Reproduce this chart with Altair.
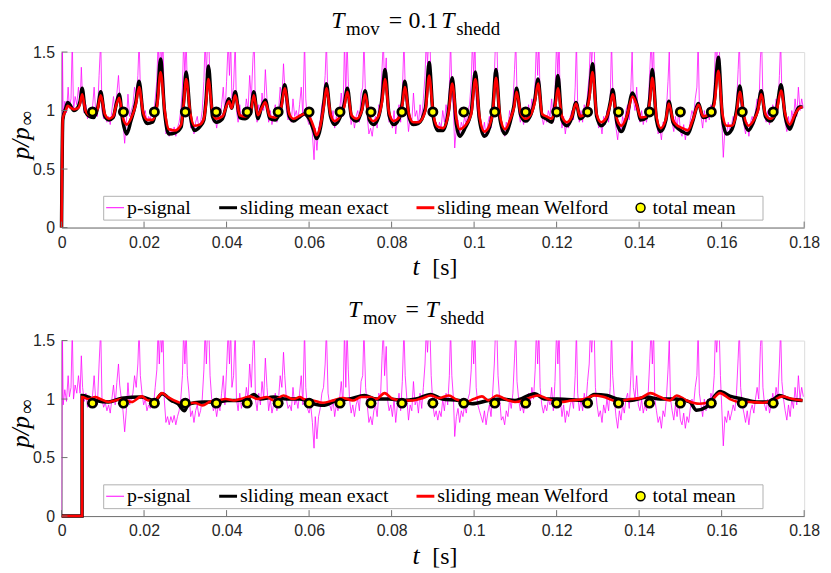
import altair as alt
import pandas as pd

# ---------------- data ----------------
SERIES = ["p-signal", "sliding mean exact", "sliding mean Welford", "total mean"]
x_ticks = [0, 0.02, 0.04, 0.06, 0.08, 0.1, 0.12, 0.14, 0.16, 0.18]
y_ticks = [0, 0.5, 1, 1.5]

# raw pressure signal (same in both panels)
psig_t = [
    0, 0.0002, 0.0004, 0.0008, 0.0012, 0.0016, 0.0019, 0.0023, 0.0026, 0.0029,
    0.0033, 0.0037, 0.0041, 0.0045, 0.0048, 0.0051, 0.0055, 0.0059, 0.0063, 0.0067,
    0.0071, 0.0075, 0.0079, 0.0083, 0.0087, 0.0091, 0.0095, 0.0098, 0.0102, 0.0106,
    0.011, 0.0114, 0.0118, 0.0122, 0.0126, 0.013, 0.0134, 0.0138, 0.0141, 0.0145,
    0.0149, 0.0153, 0.0157, 0.0161, 0.0165, 0.0169, 0.0173, 0.0177, 0.0181, 0.0185,
    0.0188, 0.0191, 0.0195, 0.0199, 0.0203, 0.0207, 0.0211, 0.0215, 0.0219, 0.0223,
    0.0227, 0.0231, 0.0234, 0.0237, 0.024, 0.0243, 0.0246, 0.0249, 0.0253, 0.0257,
    0.0261, 0.0265, 0.0269, 0.0273, 0.0277, 0.0281, 0.0285, 0.0289, 0.0293, 0.0296,
    0.0299, 0.0302, 0.0305, 0.0309, 0.0313, 0.0317, 0.0321, 0.0325, 0.0329, 0.0333,
    0.0337, 0.0341, 0.0345, 0.0348, 0.0351, 0.0354, 0.0357, 0.036, 0.0364, 0.0368,
    0.0372, 0.0376, 0.038, 0.0384, 0.0388, 0.0392, 0.0396, 0.04, 0.0404, 0.0407,
    0.041, 0.0413, 0.0417, 0.0421, 0.0424, 0.0428, 0.0432, 0.0436, 0.044, 0.0444,
    0.0448, 0.0452, 0.0456, 0.046, 0.0464, 0.0467, 0.047, 0.0474, 0.0478, 0.0482,
    0.0486, 0.049, 0.0494, 0.0498, 0.0502, 0.0506, 0.051, 0.0514, 0.0518, 0.0522,
    0.0526, 0.053, 0.0534, 0.0538, 0.0541, 0.0545, 0.0549, 0.0553, 0.0557, 0.0561,
    0.0565, 0.0569, 0.0573, 0.0577, 0.0581, 0.0585, 0.0589, 0.0592, 0.0596, 0.06,
    0.0604, 0.0608, 0.0612, 0.0615, 0.0619, 0.0623, 0.0627, 0.0631, 0.0635, 0.0639,
    0.0642, 0.0646, 0.065, 0.0654, 0.0658, 0.0662, 0.0666, 0.067, 0.0674, 0.0678,
    0.0682, 0.0686, 0.0689, 0.0692, 0.0695, 0.0698, 0.0702, 0.0706, 0.071, 0.0714,
    0.0718, 0.0722, 0.0726, 0.073, 0.0733, 0.0737, 0.0741, 0.0745, 0.0749, 0.0753,
    0.0757, 0.0761, 0.0765, 0.0769, 0.0773, 0.0777, 0.078, 0.0783, 0.0787, 0.079,
    0.0794, 0.0798, 0.0802, 0.0806, 0.081, 0.0814, 0.0818, 0.0822, 0.0826, 0.083,
    0.0833, 0.0837, 0.0841, 0.0845, 0.0849, 0.0853, 0.0857, 0.0861, 0.0865, 0.0869,
    0.0873, 0.0877, 0.0881, 0.0884, 0.0887, 0.089, 0.0893, 0.0896, 0.09, 0.0904,
    0.0908, 0.0912, 0.0916, 0.092, 0.0924, 0.0928, 0.0932, 0.0936, 0.094, 0.0943,
    0.0946, 0.095, 0.0953, 0.0957, 0.0961, 0.0965, 0.0969, 0.0973, 0.0977, 0.0981,
    0.0985, 0.0989, 0.0993, 0.0996, 0.0999, 0.1002, 0.1005, 0.1009, 0.1013, 0.1017,
    0.1021, 0.1025, 0.1029, 0.1033, 0.1037, 0.1041, 0.1045, 0.1049, 0.1052, 0.1055,
    0.1058, 0.1062, 0.1066, 0.107, 0.1074, 0.1078, 0.1082, 0.1086, 0.109, 0.1094,
    0.1098, 0.1101, 0.1104, 0.1108, 0.1112, 0.1116, 0.112, 0.1124, 0.1128, 0.1132,
    0.1136, 0.114, 0.1144, 0.1148, 0.1151, 0.1154, 0.1157, 0.116, 0.1164, 0.1168,
    0.1172, 0.1176, 0.118, 0.1184, 0.1188, 0.1192, 0.1196, 0.12, 0.1203, 0.1206,
    0.1209, 0.1213, 0.1217, 0.1221, 0.1225, 0.1229, 0.1233, 0.1237, 0.1241, 0.1245,
    0.1248, 0.1251, 0.1255, 0.1259, 0.1263, 0.1267, 0.1271, 0.1275, 0.1279, 0.1282,
    0.1285, 0.1288, 0.1291, 0.1294, 0.1298, 0.1302, 0.1306, 0.131, 0.1314, 0.1318,
    0.1322, 0.1326, 0.133, 0.1333, 0.1336, 0.134, 0.1344, 0.1348, 0.1352, 0.1356,
    0.136, 0.1364, 0.1368, 0.1372, 0.1376, 0.138, 0.1383, 0.1386, 0.139, 0.1394,
    0.1398, 0.1402, 0.1406, 0.141, 0.1414, 0.1418, 0.1422, 0.1426, 0.1429, 0.1432,
    0.1435, 0.1438, 0.1442, 0.1446, 0.145, 0.1454, 0.1458, 0.1462, 0.1466, 0.147,
    0.1473, 0.1476, 0.148, 0.1484, 0.1488, 0.1492, 0.1496, 0.15, 0.1504, 0.1508,
    0.1512, 0.1516, 0.152, 0.1524, 0.1528, 0.1532, 0.1536, 0.154, 0.1543, 0.1546,
    0.155, 0.1554, 0.1558, 0.1562, 0.1566, 0.157, 0.1574, 0.1578, 0.1582, 0.1585,
    0.1588, 0.1591, 0.1594, 0.1597, 0.16, 0.1604, 0.1608, 0.1612, 0.1616, 0.162,
    0.1624, 0.1628, 0.1632, 0.1636, 0.164, 0.1643, 0.1646, 0.165, 0.1654, 0.1658,
    0.1662, 0.1666, 0.167, 0.1674, 0.1678, 0.1682, 0.1686, 0.169, 0.1694, 0.1697,
    0.17, 0.1704, 0.1708, 0.1712, 0.1716, 0.172, 0.1724, 0.1728, 0.1732, 0.1736,
    0.174, 0.1743, 0.1746, 0.175, 0.1754, 0.1758, 0.1762, 0.1766, 0.177, 0.1774,
    0.1778, 0.1782, 0.1786, 0.179, 0.1794, 0.1798,
]
psig_v = [
    0.0, 1.6, 0.95, 1.08, 0.98, 1.2, 1.02, 1.1, 1.6, 1.0,
    1.12, 1.05, 1.2, 1.05, 1.37, 1.1, 0.98, 1.05, 0.93, 1.0,
    0.95, 1.02, 1.2, 0.98, 0.95, 1.3, 1.6, 1.0, 0.93, 0.97,
    0.9, 0.95, 0.88, 1.0, 1.12, 0.95, 1.14, 1.3, 1.12, 1.0,
    0.9, 0.72, 0.9, 1.14, 0.95, 1.0, 1.05, 1.2, 1.1, 1.3,
    1.6, 1.2, 1.05, 0.95, 1.0, 0.9, 0.95, 0.92, 1.0, 0.95,
    1.1, 1.25, 1.6, 1.3, 1.6, 1.4, 1.6, 1.0, 0.8, 0.85,
    0.78, 0.85, 0.8, 0.86, 0.78, 0.85, 0.9, 1.0, 1.2, 1.6,
    1.3, 1.6, 1.2, 1.05, 0.85, 0.9, 0.8, 0.9, 0.95, 0.85,
    0.9, 1.0, 1.25, 1.6, 1.3, 1.6, 1.6, 1.2, 1.0, 0.9,
    0.95, 0.85, 0.95, 0.9, 1.05, 1.2, 0.95, 1.25, 1.6, 1.3,
    1.6, 1.1, 1.2, 1.6, 1.0, 0.9, 1.05, 0.92, 1.0, 0.95,
    1.1, 1.0, 1.3, 1.1, 1.45, 1.6, 1.0, 0.9, 1.05, 0.95,
    1.15, 1.0, 1.35, 1.1, 0.9, 1.0, 0.88, 0.95, 1.05, 0.9,
    1.0, 1.2, 1.1, 1.4, 1.2, 1.0, 0.92, 0.95, 0.9, 1.1,
    0.95, 1.0, 0.92, 1.05, 1.2, 0.95, 1.6, 1.1, 0.92, 0.88,
    0.95, 0.8, 0.58, 0.85, 0.66, 0.85, 0.92, 1.05, 1.1, 1.3,
    1.6, 1.05, 0.95, 0.9, 1.0, 0.85, 0.95, 0.9, 1.0, 1.15,
    0.95, 1.6, 1.1, 1.6, 1.25, 1.0, 0.88, 0.95, 0.85, 0.95,
    1.0, 0.9, 1.15, 1.2, 1.6, 1.1, 0.95, 0.8, 0.85, 0.78,
    0.9, 0.95, 0.85, 1.05, 1.0, 1.37, 1.6, 1.2, 1.45, 1.0,
    0.9, 0.95, 0.85, 1.0, 0.8, 0.95, 1.05, 0.9, 1.15, 1.6,
    1.2, 1.0, 0.82, 0.95, 0.9, 1.15, 0.95, 1.0, 0.88, 1.05,
    0.92, 1.1, 1.3, 1.6, 1.4, 1.6, 1.6, 1.2, 0.95, 0.85,
    0.9, 0.82, 0.9, 0.85, 1.0, 0.9, 1.05, 0.95, 1.2, 1.6,
    1.2, 1.0, 0.68, 0.85, 0.92, 0.8, 0.9, 0.85, 0.95, 0.88,
    1.0, 1.05, 1.25, 1.6, 1.3, 1.6, 1.1, 0.95, 0.9, 0.85,
    0.8, 0.9, 0.78, 0.88, 0.95, 0.85, 1.05, 1.3, 1.6, 1.6,
    1.2, 1.0, 0.82, 0.85, 0.78, 0.9, 0.85, 1.0, 0.92, 1.05,
    1.35, 1.6, 1.15, 1.0, 0.9, 0.95, 0.88, 1.0, 0.92, 1.05,
    0.95, 1.1, 1.0, 1.25, 1.6, 1.3, 1.6, 1.1, 0.95, 0.88,
    0.95, 0.9, 1.0, 0.95, 1.1, 0.9, 1.15, 1.6, 1.3, 1.6,
    1.0, 0.85, 0.95, 0.8, 0.9, 0.85, 0.95, 1.0, 0.92, 1.2,
    1.6, 1.05, 0.9, 1.0, 0.9, 1.05, 0.95, 1.15, 1.3, 1.6,
    1.4, 1.6, 1.6, 1.1, 0.95, 0.85, 0.9, 0.8, 0.95, 0.88,
    1.0, 0.9, 1.1, 1.6, 1.2, 1.0, 0.85, 0.75, 0.9, 0.82,
    0.95, 0.88, 1.0, 1.05, 0.92, 1.2, 1.5, 1.1, 1.0, 1.2,
    0.95, 0.9, 1.0, 0.88, 0.95, 0.9, 1.05, 1.35, 1.6, 1.3,
    1.6, 1.0, 0.9, 0.8, 0.85, 0.75, 0.9, 0.85, 1.0, 1.25,
    1.5, 1.0, 0.9, 0.82, 0.95, 0.85, 1.0, 0.82, 0.78, 0.88,
    0.75, 0.85, 0.8, 0.92, 1.0, 0.95, 1.1, 1.2, 1.6, 1.05,
    0.95, 0.85, 1.0, 0.9, 1.0, 0.92, 1.05, 1.0, 1.2, 1.6,
    1.4, 1.6, 1.6, 1.2, 0.95, 0.6, 0.85, 0.8, 0.9, 0.82,
    0.88, 0.95, 0.9, 1.05, 1.35, 1.6, 1.1, 0.95, 0.88, 0.8,
    0.9, 0.78, 0.9, 0.95, 0.88, 1.0, 1.1, 1.0, 1.45, 1.6,
    1.1, 0.95, 0.9, 1.0, 0.88, 0.95, 1.05, 0.95, 1.1, 1.0,
    1.3, 1.6, 1.15, 1.0, 0.9, 0.82, 0.95, 0.85, 1.0, 0.92,
    1.1, 0.95, 1.2, 1.0, 1.1, 1.02,
]

# top panel (T_mov = 0.1 T_shedd): sliding means
top_t = [
    0.0, 0.0003, 0.001, 0.0015, 0.002, 0.003, 0.004, 0.0045, 0.005, 0.0058,
    0.0068, 0.0078, 0.0088, 0.0095, 0.0105, 0.0115, 0.0125, 0.0133, 0.014, 0.0148,
    0.0158, 0.0168, 0.018, 0.0188, 0.0198, 0.0208, 0.022, 0.0232, 0.024, 0.025,
    0.026, 0.0275, 0.029, 0.0296, 0.0302, 0.0312, 0.0322, 0.0335, 0.0345, 0.035,
    0.0356, 0.0366, 0.0375, 0.039, 0.0406, 0.0412, 0.0421, 0.0432, 0.0445, 0.0458,
    0.0466, 0.0476, 0.0485, 0.0494, 0.0505, 0.0518, 0.0532, 0.0541, 0.0552, 0.0562,
    0.0575, 0.0588, 0.06, 0.0612, 0.0618, 0.0628, 0.0635, 0.0642, 0.0652, 0.0662,
    0.0675, 0.0685, 0.0693, 0.0703, 0.0715, 0.0728, 0.0736, 0.0746, 0.0756, 0.0768,
    0.0777, 0.0784, 0.0794, 0.0805, 0.0818, 0.0826, 0.0832, 0.0842, 0.0852, 0.0865,
    0.0882, 0.0891, 0.0901, 0.0912, 0.0925, 0.0938, 0.0947, 0.0957, 0.0965, 0.0978,
    0.0993, 0.1003, 0.1013, 0.1025, 0.1037, 0.1045, 0.1053, 0.1063, 0.1075, 0.1088,
    0.1097, 0.1103, 0.1113, 0.1125, 0.1138, 0.1147, 0.1155, 0.1165, 0.1175, 0.1188,
    0.1197, 0.1203, 0.1213, 0.1225, 0.1237, 0.1247, 0.1257, 0.127, 0.1279, 0.1287,
    0.1297, 0.1308, 0.1322, 0.133, 0.1336, 0.1346, 0.1357, 0.137, 0.1384, 0.1394,
    0.1404, 0.1418, 0.1426, 0.1432, 0.1442, 0.1452, 0.1465, 0.1472, 0.1482, 0.149,
    0.1505, 0.1518, 0.153, 0.1544, 0.1555, 0.157, 0.1582, 0.1592, 0.1602, 0.1612,
    0.1625, 0.1636, 0.1644, 0.1654, 0.1665, 0.1678, 0.1688, 0.1696, 0.1706, 0.1718,
    0.1732, 0.1744, 0.1754, 0.1765, 0.1778, 0.1788, 0.1796,
]
top_welford = [
    0.0, 0.93, 1.0, 1.04, 1.03, 1.01, 1.02, 1.06, 1.14, 1.0,
    0.96, 0.96, 1.02, 1.13, 0.97, 0.93, 0.95, 1.05, 1.11, 0.95,
    0.88, 0.93, 1.05, 1.2, 0.98, 0.92, 0.92, 1.05, 1.33, 1.0,
    0.84, 0.83, 0.88, 1.05, 1.27, 0.98, 0.87, 0.88, 0.93, 1.05,
    1.27, 0.98, 0.93, 0.95, 1.08, 1.02, 1.13, 0.96, 0.95, 0.98,
    1.13, 0.96, 1.02, 1.07, 0.95, 0.94, 1.02, 1.19, 0.97, 0.93,
    0.95, 0.97, 0.95, 0.85, 0.79, 0.88, 1.02, 1.19, 0.97, 0.91,
    0.95, 1.03, 1.16, 0.96, 0.93, 1.0, 1.14, 0.95, 0.91, 0.95,
    1.08, 1.27, 0.98, 0.91, 0.94, 1.05, 1.2, 0.97, 0.9, 0.9,
    1.0, 1.3, 0.97, 0.86, 0.85, 0.98, 1.23, 0.93, 0.84, 0.87,
    0.97, 1.27, 0.95, 0.82, 0.87, 0.98, 1.28, 0.95, 0.84, 0.93,
    1.03, 1.16, 0.98, 0.93, 0.97, 1.07, 1.23, 0.97, 0.95, 0.93,
    1.05, 1.19, 0.95, 0.9, 0.95, 1.06, 0.95, 0.98, 1.1, 1.33,
    0.97, 0.9, 0.95, 1.05, 1.14, 0.93, 0.87, 0.95, 1.12, 1.05,
    0.94, 0.95, 1.08, 1.28, 0.95, 0.85, 0.93, 1.06, 0.92, 0.88,
    0.85, 0.83, 0.92, 1.05, 0.95, 0.97, 1.05, 1.34, 0.97, 0.87,
    0.87, 0.98, 1.16, 0.96, 0.87, 0.92, 1.0, 1.14, 0.97, 0.93,
    0.98, 1.17, 0.97, 0.88, 0.97, 1.02, 1.03,
]
top_exact = [
    0.0, 0.92, 1.02, 1.07, 1.05, 1.0, 1.03, 1.08, 1.19, 0.99,
    0.95, 0.94, 1.03, 1.16, 0.95, 0.92, 0.94, 1.06, 1.14, 0.92,
    0.8, 0.91, 1.07, 1.25, 0.96, 0.89, 0.9, 1.08, 1.44, 0.98,
    0.8, 0.81, 0.86, 1.08, 1.33, 0.96, 0.83, 0.86, 0.92, 1.08,
    1.38, 0.95, 0.9, 0.93, 1.1, 1.02, 1.16, 0.94, 0.93, 0.98,
    1.16, 0.93, 1.03, 1.09, 0.93, 0.92, 1.03, 1.22, 0.95, 0.91,
    0.94, 0.97, 0.93, 0.82, 0.76, 0.86, 1.04, 1.23, 0.95, 0.88,
    0.94, 1.05, 1.19, 0.94, 0.91, 1.01, 1.17, 0.92, 0.88, 0.94,
    1.11, 1.35, 0.96, 0.88, 0.93, 1.07, 1.25, 0.95, 0.88, 0.89,
    1.02, 1.41, 0.95, 0.83, 0.83, 1.0, 1.28, 0.88, 0.78, 0.85,
    0.99, 1.33, 0.92, 0.78, 0.85, 1.0, 1.35, 0.92, 0.8, 0.91,
    1.05, 1.19, 0.96, 0.91, 0.97, 1.09, 1.27, 0.95, 0.93, 0.9,
    1.08, 1.3, 0.92, 0.87, 0.94, 1.07, 0.93, 0.98, 1.13, 1.4,
    0.95, 0.87, 0.94, 1.07, 1.18, 0.9, 0.82, 0.94, 1.15, 1.06,
    0.92, 0.94, 1.11, 1.35, 0.92, 0.82, 0.92, 1.08, 0.9, 0.86,
    0.82, 0.8, 0.91, 1.06, 0.94, 0.96, 1.08, 1.455, 0.93, 0.8,
    0.84, 1.0, 1.21, 0.93, 0.83, 0.91, 1.02, 1.17, 0.95, 0.91,
    0.99, 1.22, 0.95, 0.84, 0.96, 1.03, 1.03,
]

# bottom panel (T_mov = T_shedd): sliding means
bot_welford_t = [
    0.0, 0.00497, 0.00498, 0.00657, 0.00817, 0.0094, 0.01137, 0.013, 0.01458, 0.01698,
    0.01939, 0.021, 0.0226, 0.02435, 0.0258, 0.0282, 0.0298, 0.0322, 0.0342, 0.0358,
    0.0378, 0.0398, 0.0418, 0.0434, 0.0458, 0.0474, 0.0498, 0.0514, 0.0538, 0.0562,
    0.0578, 0.0586, 0.061, 0.0634, 0.0658, 0.0682, 0.0706, 0.0726, 0.0747, 0.0763,
    0.0783, 0.0803, 0.0827, 0.0851, 0.0875, 0.0895, 0.0915, 0.0939, 0.0955, 0.0979,
    0.0999, 0.1019, 0.1035, 0.1055, 0.1075, 0.1099, 0.1119, 0.1139, 0.1155, 0.1179,
    0.1211, 0.1235, 0.1267, 0.1291, 0.1315, 0.1347, 0.1379, 0.1403, 0.1427, 0.1451,
    0.1475, 0.1491, 0.1515, 0.1547, 0.1571, 0.1596, 0.162, 0.1644, 0.1668, 0.17,
    0.1724, 0.1748, 0.1772, 0.1796,
]
bot_welford = [
    0.0, 0.0, 1.017, 1.0, 1.017, 1.0, 0.975, 0.988, 1.0, 0.975,
    1.023, 0.988, 0.988, 1.051, 1.017, 0.975, 0.96, 0.969, 0.946, 0.975,
    0.988, 1.0, 0.988, 1.0, 1.023, 1.0, 1.017, 0.988, 1.031, 1.0,
    1.017, 1.0, 0.988, 0.969, 0.988, 1.008, 0.988, 1.017, 1.017, 1.0,
    1.051, 1.0, 0.988, 0.988, 1.008, 1.031, 1.008, 1.031, 1.0, 0.975,
    1.0, 1.023, 0.988, 1.031, 1.0, 0.975, 0.988, 1.017, 1.031, 1.0,
    0.975, 0.988, 1.0, 1.031, 1.017, 0.98, 1.0, 1.008, 1.051, 1.017,
    0.988, 1.031, 0.988, 0.96, 0.975, 1.051, 1.0, 0.975, 0.975, 0.969,
    0.988, 1.023, 1.0, 0.988,
]
bot_exact_t = [
    0.0, 0.00497, 0.00498, 0.00657, 0.0084, 0.01137, 0.01458, 0.01939, 0.0226, 0.02435,
    0.0266, 0.0282, 0.0298, 0.0306, 0.0322, 0.0346, 0.0378, 0.0402, 0.0426, 0.045,
    0.0466, 0.0482, 0.0514, 0.0546, 0.0578, 0.061, 0.0634, 0.0666, 0.0698, 0.0734,
    0.0763, 0.0795, 0.0827, 0.0859, 0.0895, 0.0923, 0.0963, 0.0995, 0.1035, 0.1067,
    0.1099, 0.1147, 0.1171, 0.1203, 0.1267, 0.1291, 0.1323, 0.1347, 0.1379, 0.1419,
    0.1451, 0.1491, 0.1523, 0.1539, 0.1563, 0.1596, 0.162, 0.1652, 0.1684, 0.1716,
    0.174, 0.1764, 0.1796,
]
bot_exact = [
    0.0, 0.0, 1.031, 1.017, 0.988, 0.975, 1.008, 1.017, 0.988, 1.045,
    0.988, 0.96, 0.9, 0.95, 0.969, 0.975, 0.975, 0.988, 0.988, 1.0,
    1.04, 1.0, 1.017, 1.0, 1.0, 0.96, 0.946, 0.988, 1.0, 1.031,
    1.0, 1.0, 0.988, 1.0, 1.04, 1.0, 0.988, 0.96, 0.988, 1.0,
    0.988, 1.045, 1.0, 1.0, 0.988, 1.04, 1.031, 1.0, 0.988, 1.017,
    1.0, 1.0, 0.975, 0.904, 0.932, 1.065, 1.025, 1.0, 0.975, 0.975,
    1.031, 1.0, 0.988,
]

# total mean markers
mean_t = [0.0075, 0.015, 0.0225, 0.03, 0.0375, 0.045, 0.0525, 0.06, 0.0675, 0.075,
          0.0825, 0.09, 0.0975, 0.105, 0.1125, 0.12, 0.1275, 0.135, 0.1425, 0.15,
          0.1575, 0.165, 0.1725]
top_mean = [0.988, 0.988, 0.988, 0.988, 0.988, 0.988, 0.988, 0.988, 0.988, 0.988,
            0.988, 0.988, 0.988, 0.988, 0.988, 0.988, 0.988, 0.988, 0.988, 0.988,
            0.988, 0.988, 0.988]
bot_mean = [0.965, 0.965, 0.965, 0.965, 0.965, 0.965, 0.965, 0.965, 0.965, 0.965,
            0.965, 0.965, 0.965, 0.965, 0.965, 0.965, 0.965, 0.965, 0.965, 0.965,
            0.965, 0.965, 0.965]

# ---------------- styling ----------------
W, H = 749, 177
AX_COLOR = "#707070"
LBL_COLOR = "#262626"
SERIF = "Liberation Serif"
SANS = "Liberation Sans"
MAGENTA, BLACK, RED, YELLOW = "#ff00ff", "#000000", "#ff0000", "#ffff00"
SMALL_CIRCLE = "M0,-0.5A0.5,0.5,0,1,1,0,0.5A0.5,0.5,0,1,1,0,-0.5Z"
SHAPES = ["stroke", "stroke", "stroke", SMALL_CIRCLE]
STROKES = [MAGENTA, BLACK, RED, BLACK]
FILLS = ["transparent", "transparent", "transparent", YELLOW]

x_scale = alt.Scale(domain=[0, 0.18], nice=False, zero=False)
y_scale = alt.Scale(domain=[0, 1.5], nice=False)


def axis(vals):
    return alt.Axis(values=vals, format="~g", ticks=False, grid=False, title=None,
                    domainColor=AX_COLOR, domainWidth=1, labelFont=SANS,
                    labelFontSize=16, labelColor=LBL_COLOR, labelPadding=7,
                    labelFlush=False, labelOverlap=False)


X = alt.X("t:Q", scale=x_scale, axis=axis(x_ticks))
Y = alt.Y("p:Q", scale=y_scale, axis=axis(y_ticks))


def txt(s, x, y, size, style="normal", angle=0):
    return alt.Chart(pd.DataFrame({"s": [s]})).mark_text(
        align="left", baseline="alphabetic", font=SERIF, fontSize=size,
        fontStyle=style, color="#000000", angle=angle
    ).encode(text="s:N", x=alt.value(x), y=alt.value(y))


legend = alt.Legend(
    title=None, orient="none", legendX=42, legendY=145, direction="horizontal",
    symbolSize=324,
    symbolStrokeWidth=alt.ExprRef(expr="datum.value == 'p-signal' ? 1 : (datum.value == 'total mean' ? 1.5 : 3)"),
    labelFont=SERIF, labelFontSize=20, labelColor="#000000", labelOffset=2,
    labelLimit=400, columnPadding=22, padding=2, strokeColor="#b0b0b0",
    fillColor="#ffffff",
    labelExpr="datum.label == 'total mean' ? 'total mean\u00a0\u00a0\u00a0\u00a0\u00a0\u200b' : datum.label",
)


def panel(ex_t, ex_v, we_t, we_v, mean_v, title_parts):
    sig_df = pd.DataFrame({"t": psig_t, "p": psig_v})
    ex_df = pd.DataFrame({"t": ex_t, "p": ex_v})
    we_df = pd.DataFrame({"t": we_t, "p": we_v})
    mean_df = pd.DataFrame({"t": mean_t, "p": mean_v, "series": "total mean"})

    sig = alt.Chart(sig_df).mark_line(color=MAGENTA, strokeWidth=0.9, clip=True,
                                      opacity=0.85).encode(x=X, y=Y)
    ex = alt.Chart(ex_df).mark_line(color=BLACK, strokeWidth=3.5,
                                    interpolate="monotone").encode(x=X, y=Y)
    we = alt.Chart(we_df).mark_line(color=RED, strokeWidth=2.6,
                                    interpolate="monotone").encode(x=X, y=Y)
    ring = alt.Chart(mean_df).mark_point(filled=True, shape="circle", size=121,
                                         color=BLACK, opacity=1).encode(x=X, y=Y)
    dots = alt.Chart(mean_df).mark_point(filled=True, size=225, opacity=1).encode(
        x=X, y=Y,
        shape=alt.Shape("series:N", scale=alt.Scale(domain=SERIES, range=SHAPES),
                        legend=legend),
        fill=alt.Fill("series:N", scale=alt.Scale(domain=SERIES, range=FILLS),
                      legend=legend),
        stroke=alt.Stroke("series:N", scale=alt.Scale(domain=SERIES, range=STROKES),
                          legend=legend),
    )
    xt = alt.Chart(pd.DataFrame({"t": x_ticks})).mark_rule(
        color=AX_COLOR, strokeWidth=1).encode(x=X, y=alt.value(H), y2=alt.value(H - 6))
    yt = alt.Chart(pd.DataFrame({"p": y_ticks})).mark_rule(
        color=AX_COLOR, strokeWidth=1).encode(y=Y, x=alt.value(0), x2=alt.value(6))

    texts = [txt(*p) for p in title_parts]
    texts += [
        txt("p/p", -33, 108, 25, "italic", 270),
        txt("\u221e", -29, 74, 20, "normal", 270),
        txt("t", 354, H + 48, 26, "italic"),
        txt("[s]", 374, H + 48, 24),
    ]
    return alt.layer(sig, ex, we, ring, dots, xt, yt, *texts).properties(width=W, height=H)


top_title = [
    ("T", 272, -24, 24, "italic"),
    ("mov", 287, -17, 19),
    ("=", 330, -24, 24),
    ("0.1", 350, -24, 24),
    ("T", 383, -24, 24, "italic"),
    ("shedd", 398, -17, 19),
]
bot_title = [
    ("T", 289, -24, 24, "italic"),
    ("mov", 304, -17, 19),
    ("=", 347, -24, 24),
    ("T", 367, -24, 24, "italic"),
    ("shedd", 382, -17, 19),
]

top = panel(top_t, top_exact, top_t, top_welford, top_mean, top_title)
bottom = panel(bot_exact_t, bot_exact, bot_welford_t, bot_welford, bot_mean, bot_title)

chart = alt.VConcatChart(vconcat=[top, bottom], spacing=114, bounds="flush").resolve_scale(
    x="independent", y="independent", shape="independent", fill="independent",
    stroke="independent"
).resolve_legend(shape="independent", fill="independent", stroke="independent").properties(
    padding={"left": 0, "top": -2, "right": 2, "bottom": 2}
).configure_view(stroke=None).configure(background="#ffffff")

chart.save("out.html", embed_options={"renderer": "svg", "actions": False})
